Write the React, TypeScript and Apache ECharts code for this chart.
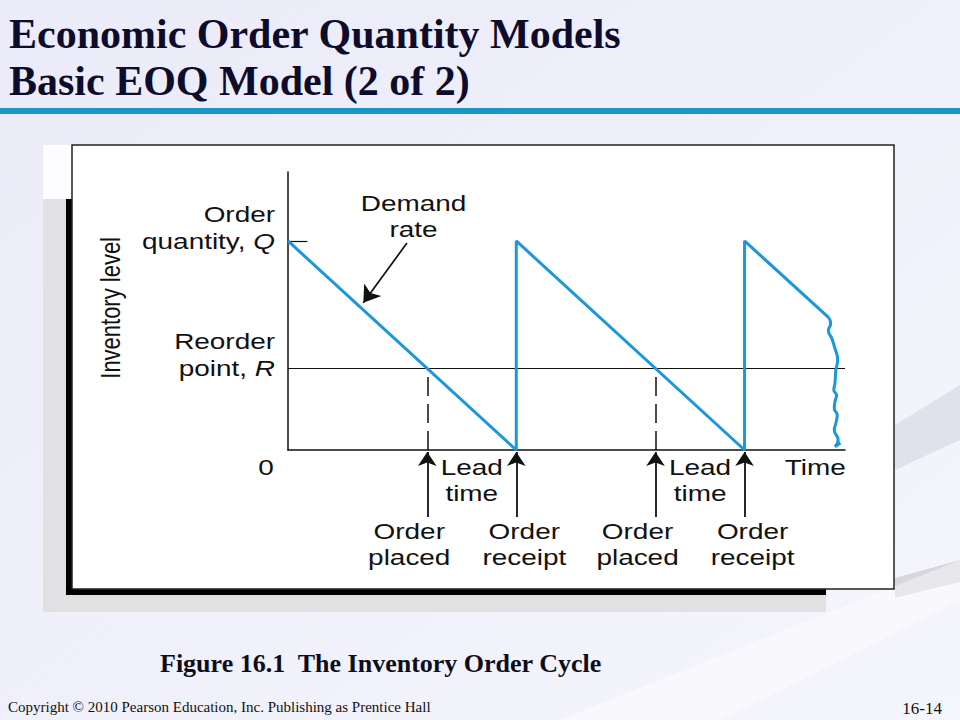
import React, { useEffect, useRef } from "react";
import * as echarts from "echarts";

// ---------------- data ----------------
const ORDER_QUANTITY = 100; // Q
const REORDER_POINT = 39; // R
const TIME_MAX = 24.4;
const LEVEL_MAX = 133;
const orderPlacedTimes = [6.1, 16.1];
const orderReceiptTimes = [10, 20];
const inventoryLevel: [number, number][] = [
  [0, 100], [10, 0], [10, 100], [20, 0], [20, 100], [23.7, 63.2],
];
const brokenEdge: [number, number][] = [
  [23.7, 63.2], [23.77, 60.4], [23.67, 57.2], [23.82, 53.4], [23.96, 48.6], [24.08, 43.1],
  [24.0, 38.3], [23.96, 32.0], [23.91, 28.7], [24.03, 26.3], [23.96, 23.1], [23.93, 19.9],
  [24.06, 16.7], [24.0, 12.8], [23.93, 9.6], [24.1, 4.8], [23.96, 1.6], [24.2, 3.3],
];
const demandRateArrow: [number, number][] = [[5.21, 99], [3.3, 70.5]];

const titleLines = ["Economic Order Quantity Models", "Basic EOQ Model (2 of 2)"];
const axisTitle = "Inventory level";
const qLabelRich = "{n|Order}\n{n|quantity, }{i|Q}";
const rLabelRich = "{n|Reorder}\n{n|point, }{i|R}";
const demandRateText = "Demand\nrate";
const originLabel = "0";
const timeLabel = "Time";
const leadTimeText = "Lead\ntime";
const placedText = "Order\nplaced";
const receiptText = "Order\nreceipt";
const captionText = "Figure 16.1  The Inventory Order Cycle";
const copyrightText = "Copyright \u00A9 2010 Pearson Education, Inc. Publishing as Prentice Hall";
const slideNumber = "16-14";

// ---------------- layout / style ----------------
const SANS = '"Liberation Sans", Arial, Helvetica, sans-serif';
const SERIF = '"Liberation Serif", "Times New Roman", Times, serif';
const STRETCH = 1.27;
const INK = "#111111";
const BLUE = "#1b97db";
const BELOW_MAX = 160;
const ARROW_FROM = 67;
const ARROW_TO = 2;
const placedShift = -18;
const receiptShift = 8;

export default function App() {
  const ref = useRef<HTMLDivElement>(null);

  useEffect(() => {
    if (!ref.current) return;
    const chart = echarts.init(ref.current, null, { renderer: "svg" });

    const events = [...orderPlacedTimes, ...orderReceiptTimes].sort((a, b) => a - b);

    chart.setOption({
      animation: false,
      backgroundColor: "transparent",
      grid: [
        { left: 288, top: 172, width: 557, height: 278 },
        { left: 288, top: 450, width: 557, height: 160 },
      ],
      xAxis: [
        {
          type: "value", gridIndex: 0, min: 0, max: TIME_MAX,
          axisLine: { show: true, onZero: false, lineStyle: { color: INK, width: 1.5 } },
          axisTick: { show: false }, axisLabel: { show: false }, splitLine: { show: false },
        },
        { type: "value", gridIndex: 1, min: 0, max: TIME_MAX, show: false },
      ],
      yAxis: [
        {
          type: "value", gridIndex: 0, min: 0, max: LEVEL_MAX,
          axisLine: { show: true, onZero: false, lineStyle: { color: INK, width: 1.5 } },
          axisTick: { show: false }, axisLabel: { show: false }, splitLine: { show: false },
        },
        { type: "value", gridIndex: 1, min: 0, max: BELOW_MAX, inverse: true, show: false },
      ],
      series: [
        {
          name: "Inventory",
          type: "line",
          xAxisIndex: 0, yAxisIndex: 0,
          data: inventoryLevel,
          showSymbol: false, symbol: "none",
          lineStyle: { color: BLUE, width: 3 },
          z: 5,
          markLine: {
            silent: true, symbol: ["none", "none"], label: { show: false },
            lineStyle: { color: INK, width: 1.2, type: "solid" },
            data: [
              [{ coord: [0, REORDER_POINT] }, { coord: [TIME_MAX, REORDER_POINT] }],
              [{ coord: [0, ORDER_QUANTITY] }, { coord: [0.85, ORDER_QUANTITY] }],
            ],
          },
        },
        {
          name: "Continuation",
          type: "line",
          xAxisIndex: 0, yAxisIndex: 0,
          data: brokenEdge,
          smooth: 0.5,
          showSymbol: false, symbol: "none",
          lineStyle: { color: BLUE, width: 3 },
          z: 5,
        },
        {
          name: "Lead time drops",
          type: "line",
          xAxisIndex: 0, yAxisIndex: 0,
          data: [],
          markLine: {
            silent: true, symbol: ["none", "none"], label: { show: false },
            lineStyle: { color: INK, width: 1.5, type: [19, 8] },
            data: orderPlacedTimes.map((t) => [{ coord: [t, 0] }, { coord: [t, REORDER_POINT] }]),
          },
        },
        {
          name: "Demand arrow",
          type: "line",
          xAxisIndex: 0, yAxisIndex: 0,
          data: [],
          markLine: {
            silent: true, symbol: ["none", "arrow"], symbolSize: 16, label: { show: false },
            lineStyle: { color: INK, width: 1.7, type: "solid" },
            data: [[{ coord: demandRateArrow[0] }, { coord: demandRateArrow[1] }]],
          },
        },
        {
          name: "Events",
          type: "line",
          xAxisIndex: 1, yAxisIndex: 1,
          data: [],
          markLine: {
            silent: true, symbol: ["none", "arrow"], symbolSize: 14, label: { show: false },
            lineStyle: { color: INK, width: 1.8, type: "solid" },
            data: events.map((t) => [{ coord: [t, ARROW_FROM] }, { coord: [t, ARROW_TO] }]),
          },
        },
      ],
    });

    const toPx = (grid: number, pt: number[]) =>
      chart.convertToPixel({ gridIndex: grid } as any, pt) as number[];

    const txt = (
      text: string, x: number, y: number, align: string, vAlign: string,
      lineHeight = 26
    ) => ({
      type: "text", x, y, scaleX: STRETCH, z: 100, silent: true,
      style: {
        text, fill: INK, fontFamily: SANS, fontSize: 22, lineHeight,
        align, verticalAlign: vAlign, textAlign: align, textVerticalAlign: vAlign,
      },
    });

    const richStyle = {
      n: { fontFamily: SANS, fontSize: 22, lineHeight: 27, fill: INK },
      i: { fontFamily: SANS, fontSize: 22, lineHeight: 27, fill: INK, fontStyle: "italic" },
    };

    const [x0] = toPx(0, [0, 0]);
    const qY = toPx(0, [0, ORDER_QUANTITY])[1];
    const rY = toPx(0, [0, REORDER_POINT])[1];
    const [demX, demY] = toPx(0, [5.5, 112]);
    const axisTitleY = toPx(0, [0, 68])[1];

    const annotations: any[] = [];
    annotations.push({
      type: "text", x: x0 - 13, y: qY + 13.5, scaleX: STRETCH, z: 100, silent: true,
      style: { text: qLabelRich, rich: richStyle, align: "right", verticalAlign: "bottom", textAlign: "right", textVerticalAlign: "bottom" },
    });
    annotations.push({
      type: "text", x: x0 - 13, y: rY + 13.5, scaleX: STRETCH, z: 100, silent: true,
      style: { text: rLabelRich, rich: richStyle, align: "right", verticalAlign: "bottom", textAlign: "right", textVerticalAlign: "bottom" },
    });
    annotations.push(txt(demandRateText, demX, demY, "center", "middle", 26));
    annotations.push({
      type: "text", x: x0 - 178, y: axisTitleY, rotation: Math.PI / 2, scaleY: STRETCH, z: 100, silent: true,
      style: {
        text: axisTitle, fill: INK, fontFamily: SANS, fontSize: 22,
        align: "center", verticalAlign: "middle", textAlign: "center", textVerticalAlign: "middle",
      },
    });

    const [ox, oy] = toPx(1, [0, 17]);
    annotations.push(txt(originLabel, ox - 22, oy, "center", "middle"));
    const [tx, ty] = toPx(1, [23.1, 17]);
    annotations.push(txt(timeLabel, tx, ty, "center", "middle"));
    orderPlacedTimes.forEach((p, i) => {
      const mid = (p + orderReceiptTimes[i]) / 2;
      const [lx, ly] = toPx(1, [mid, 30]);
      annotations.push(txt(leadTimeText, lx, ly, "center", "middle", 26));
      const [px, py] = toPx(1, [p, 94]);
      annotations.push(txt(placedText, px + placedShift, py, "center", "middle", 26));
      const [rx, ry] = toPx(1, [orderReceiptTimes[i], 94]);
      annotations.push(txt(receiptText, rx + receiptShift, ry, "center", "middle", 26));
    });

    const slide: any[] = [
      {
        type: "rect", z: -100, silent: true, shape: { x: 0, y: 0, width: 960, height: 720 },
        style: {
          fill: new echarts.graphic.LinearGradient(0, 0, 1, 1, [
            { offset: 0, color: "#ebebf9" },
            { offset: 1, color: "#f5f5fc" },
          ]),
        },
      },
      {
        type: "polygon", z: -99, silent: true,
        shape: { points: [[895, 425], [960, 385], [960, 440], [895, 470]] },
        style: { fill: "rgba(205,205,215,0.45)" },
      },
      {
        type: "polygon", z: -99, silent: true,
        shape: { points: [[895, 578], [960, 560], [960, 582], [895, 598]] },
        style: { fill: "#d6d6dc" },
      },
      {
        type: "polygon", z: -99, silent: true,
        shape: { points: [[560, 720], [720, 720], [960, 600], [960, 560]] },
        style: { fill: "rgba(255,255,255,0.45)" },
      },
      {
        type: "text", x: 9, y: 34, z: 50, silent: true,
        style: { text: titleLines[0], fill: "#0d0d2b", fontFamily: SERIF, fontSize: 42, fontWeight: "bold", align: "left", verticalAlign: "middle", textAlign: "left", textVerticalAlign: "middle" },
      },
      {
        type: "text", x: 9, y: 81, z: 50, silent: true,
        style: { text: titleLines[1], fill: "#0d0d2b", fontFamily: SERIF, fontSize: 42, fontWeight: "bold", align: "left", verticalAlign: "middle", textAlign: "left", textVerticalAlign: "middle" },
      },
      {
        type: "rect", z: -90, silent: true, shape: { x: 0, y: 108, width: 960, height: 6 },
        style: { fill: "#1b97c7" },
      },
      { type: "rect", z: -90, silent: true, shape: { x: 43, y: 145, width: 29, height: 54 }, style: { fill: "#fdfdff" } },
      { type: "rect", z: -90, silent: true, shape: { x: 43, y: 199, width: 783, height: 413 }, style: { fill: "#e1e1e3" } },
      { type: "rect", z: -89, silent: true, shape: { x: 66, y: 199, width: 760, height: 396 }, style: { fill: "#000000" } },
      {
        type: "rect", z: -88, silent: true, shape: { x: 72, y: 145, width: 822, height: 444 },
        style: { fill: "#ffffff", stroke: "#222222", lineWidth: 1.5 },
      },
      {
        type: "text", x: 160, y: 663, z: 50, silent: true,
        style: { text: captionText, fill: "#0d0d1b", fontFamily: SERIF, fontSize: 26, fontWeight: "bold", align: "left", verticalAlign: "middle", textAlign: "left", textVerticalAlign: "middle" },
      },
      {
        type: "text", x: 8, y: 707, z: 50, silent: true,
        style: { text: copyrightText, fill: "#111111", fontFamily: SERIF, fontSize: 15, align: "left", verticalAlign: "middle", textAlign: "left", textVerticalAlign: "middle" },
      },
      {
        type: "text", x: 942, y: 708, z: 50, silent: true,
        style: { text: slideNumber, fill: "#111111", fontFamily: SERIF, fontSize: 17, align: "right", verticalAlign: "middle", textAlign: "right", textVerticalAlign: "middle" },
      },
    ];

    chart.setOption({ graphic: { elements: [...slide, ...annotations] } });

    return () => chart.dispose();
  }, []);

  return (
    <div
      ref={ref}
      style={{ position: "absolute", left: 0, top: 0, width: 960, height: 720 }}
    />
  );
}
